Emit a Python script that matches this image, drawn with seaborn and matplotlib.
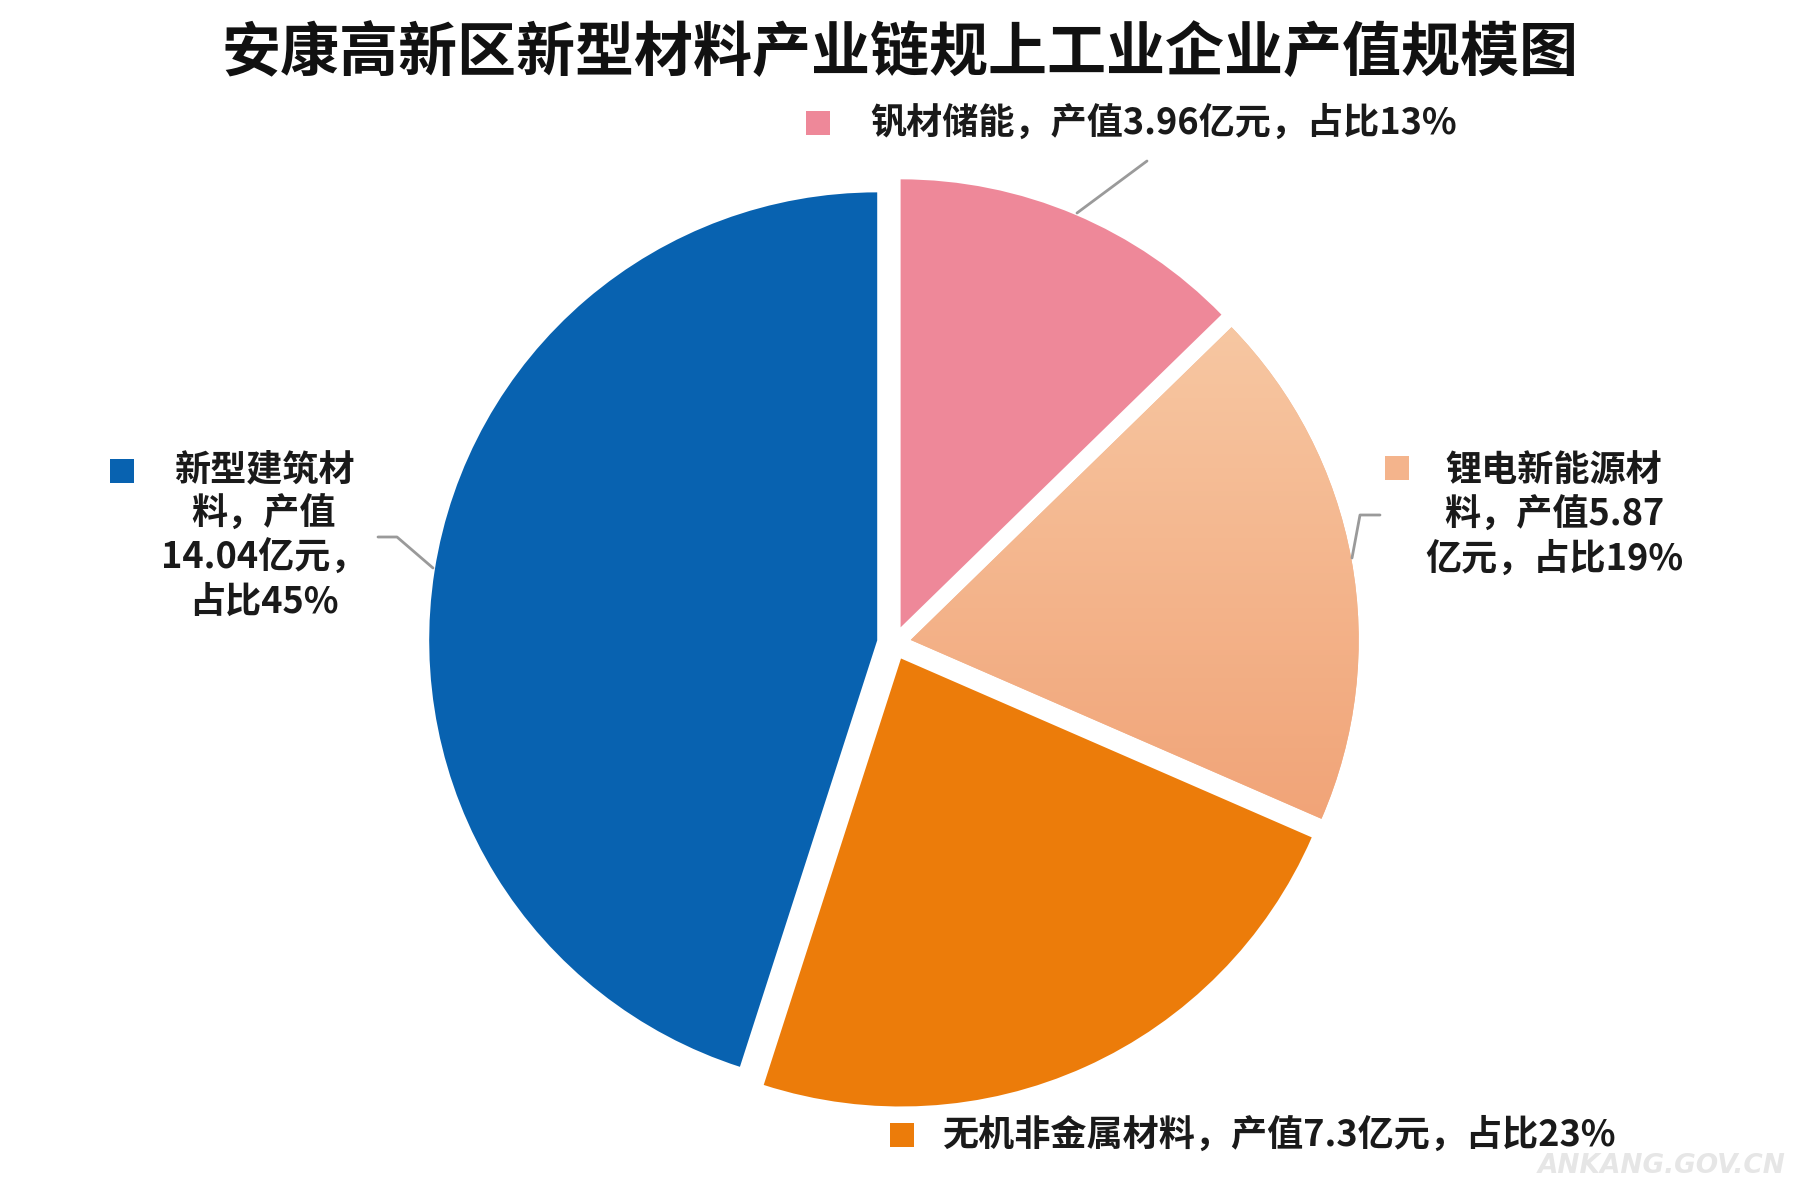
import numpy as np
import matplotlib
matplotlib.use("Agg")
import matplotlib.pyplot as plt
import seaborn as sns

# ---- data ----
categories = ["钒材储能", "锂电新能源材料", "无机非金属材料", "新型建筑材料"]
values = [3.96, 5.87, 7.3, 14.04]          # 亿元
colors = ["#EE8899", "#F4B48C", "#EC7C0A", "#0862B0"]
title = "安康高新区新型材料产业链规上工业企业产值规模图"

total = sum(values)
pcts = [round(v / total * 100) for v in values]

labels = [
    f"钒材储能，产值{values[0]:g}亿元，占比{pcts[0]}%",
    f"锂电新能源材\n料，产值{values[1]:g}\n亿元，占比{pcts[1]}%",
    f"无机非金属材料，产值{values[2]:g}亿元，占比{pcts[2]}%",
    f"新型建筑材\n料，产值\n{values[3]:g}亿元，\n占比{pcts[3]}%",
]

sns.set_theme(style="white")
plt.rcParams['font.family'] = ['Noto Sans CJK SC', 'DejaVu Sans']

W, H = 1807, 1186
fig = plt.figure(figsize=(W / 100, H / 100), dpi=100)
ax = fig.add_axes([0, 0, 1, 1])

cx, cy, R = 894, H - 643, 448
wedges, _ = ax.pie(values, colors=colors, startangle=90, counterclock=False,
                   center=(cx, cy), radius=R, explode=[17] * 4,
                   wedgeprops=dict(linewidth=0))

# vertical gradient on the lithium slice
w = wedges[1]
bb = w.get_path().get_extents(w.get_patch_transform())
grad = np.linspace(0, 1, 256).reshape(-1, 1)
top = np.array([0xF7, 0xC7, 0xA2]) / 255
bot = np.array([0xF1, 0xA4, 0x78]) / 255
img = top[None, None, :] * (1 - grad[..., None]) + bot[None, None, :] * grad[..., None]
im = ax.imshow(img, extent=[bb.x0, bb.x1, bb.y0, bb.y1], origin='upper',
               aspect='auto', zorder=w.get_zorder() + 0.1)
im.set_clip_path(w)

ax.set_xlim(0, W)
ax.set_ylim(0, H)
ax.set_aspect('equal')
ax.axis('off')

def Y(y):
    return H - y

txt = dict(fontsize=26, color='#1a1a1a', fontweight='bold')
# markers + labels (pixel positions in image coords)
marker_pos = [(818, 123), (1397, 468), (902, 1135), (122, 471)]
for (mx, my), c in zip(marker_pos, colors):
    ax.scatter([mx], [Y(my)], marker='s', s=300, color=c, linewidths=0, zorder=5)

ax.text(870, Y(123), labels[0], ha='left', va='center', **txt)
ax.text(1554, Y(515), labels[1], ha='center', va='center', linespacing=1.25, **txt)
ax.text(943, Y(1135), labels[2], ha='left', va='center', **txt)
ax.text(264, Y(536), labels[3], ha='center', va='center', linespacing=1.25, **txt)

# leader lines
lc = dict(color='#9a9a9a', lw=2, zorder=4)
ax.plot([1147, 1077], [Y(161), Y(213)], **lc)
ax.plot([1380, 1360, 1352], [Y(515), Y(515), Y(558)], **lc)
ax.plot([378, 397, 433], [Y(537), Y(537), Y(568)], **lc)

# title
ax.text(900, Y(54), title, ha='center', va='center', fontsize=42.5,
        fontweight='bold', color='#111111')

# watermark
ax.text(1786, Y(1166), "ANKANG.GOV.CN", ha='right', va='center', fontsize=19,
        fontstyle='italic', fontweight='bold', color='#e6e6e6',
        family=['DejaVu Sans'])

fig.savefig("out.png", dpi=100, facecolor='white')
